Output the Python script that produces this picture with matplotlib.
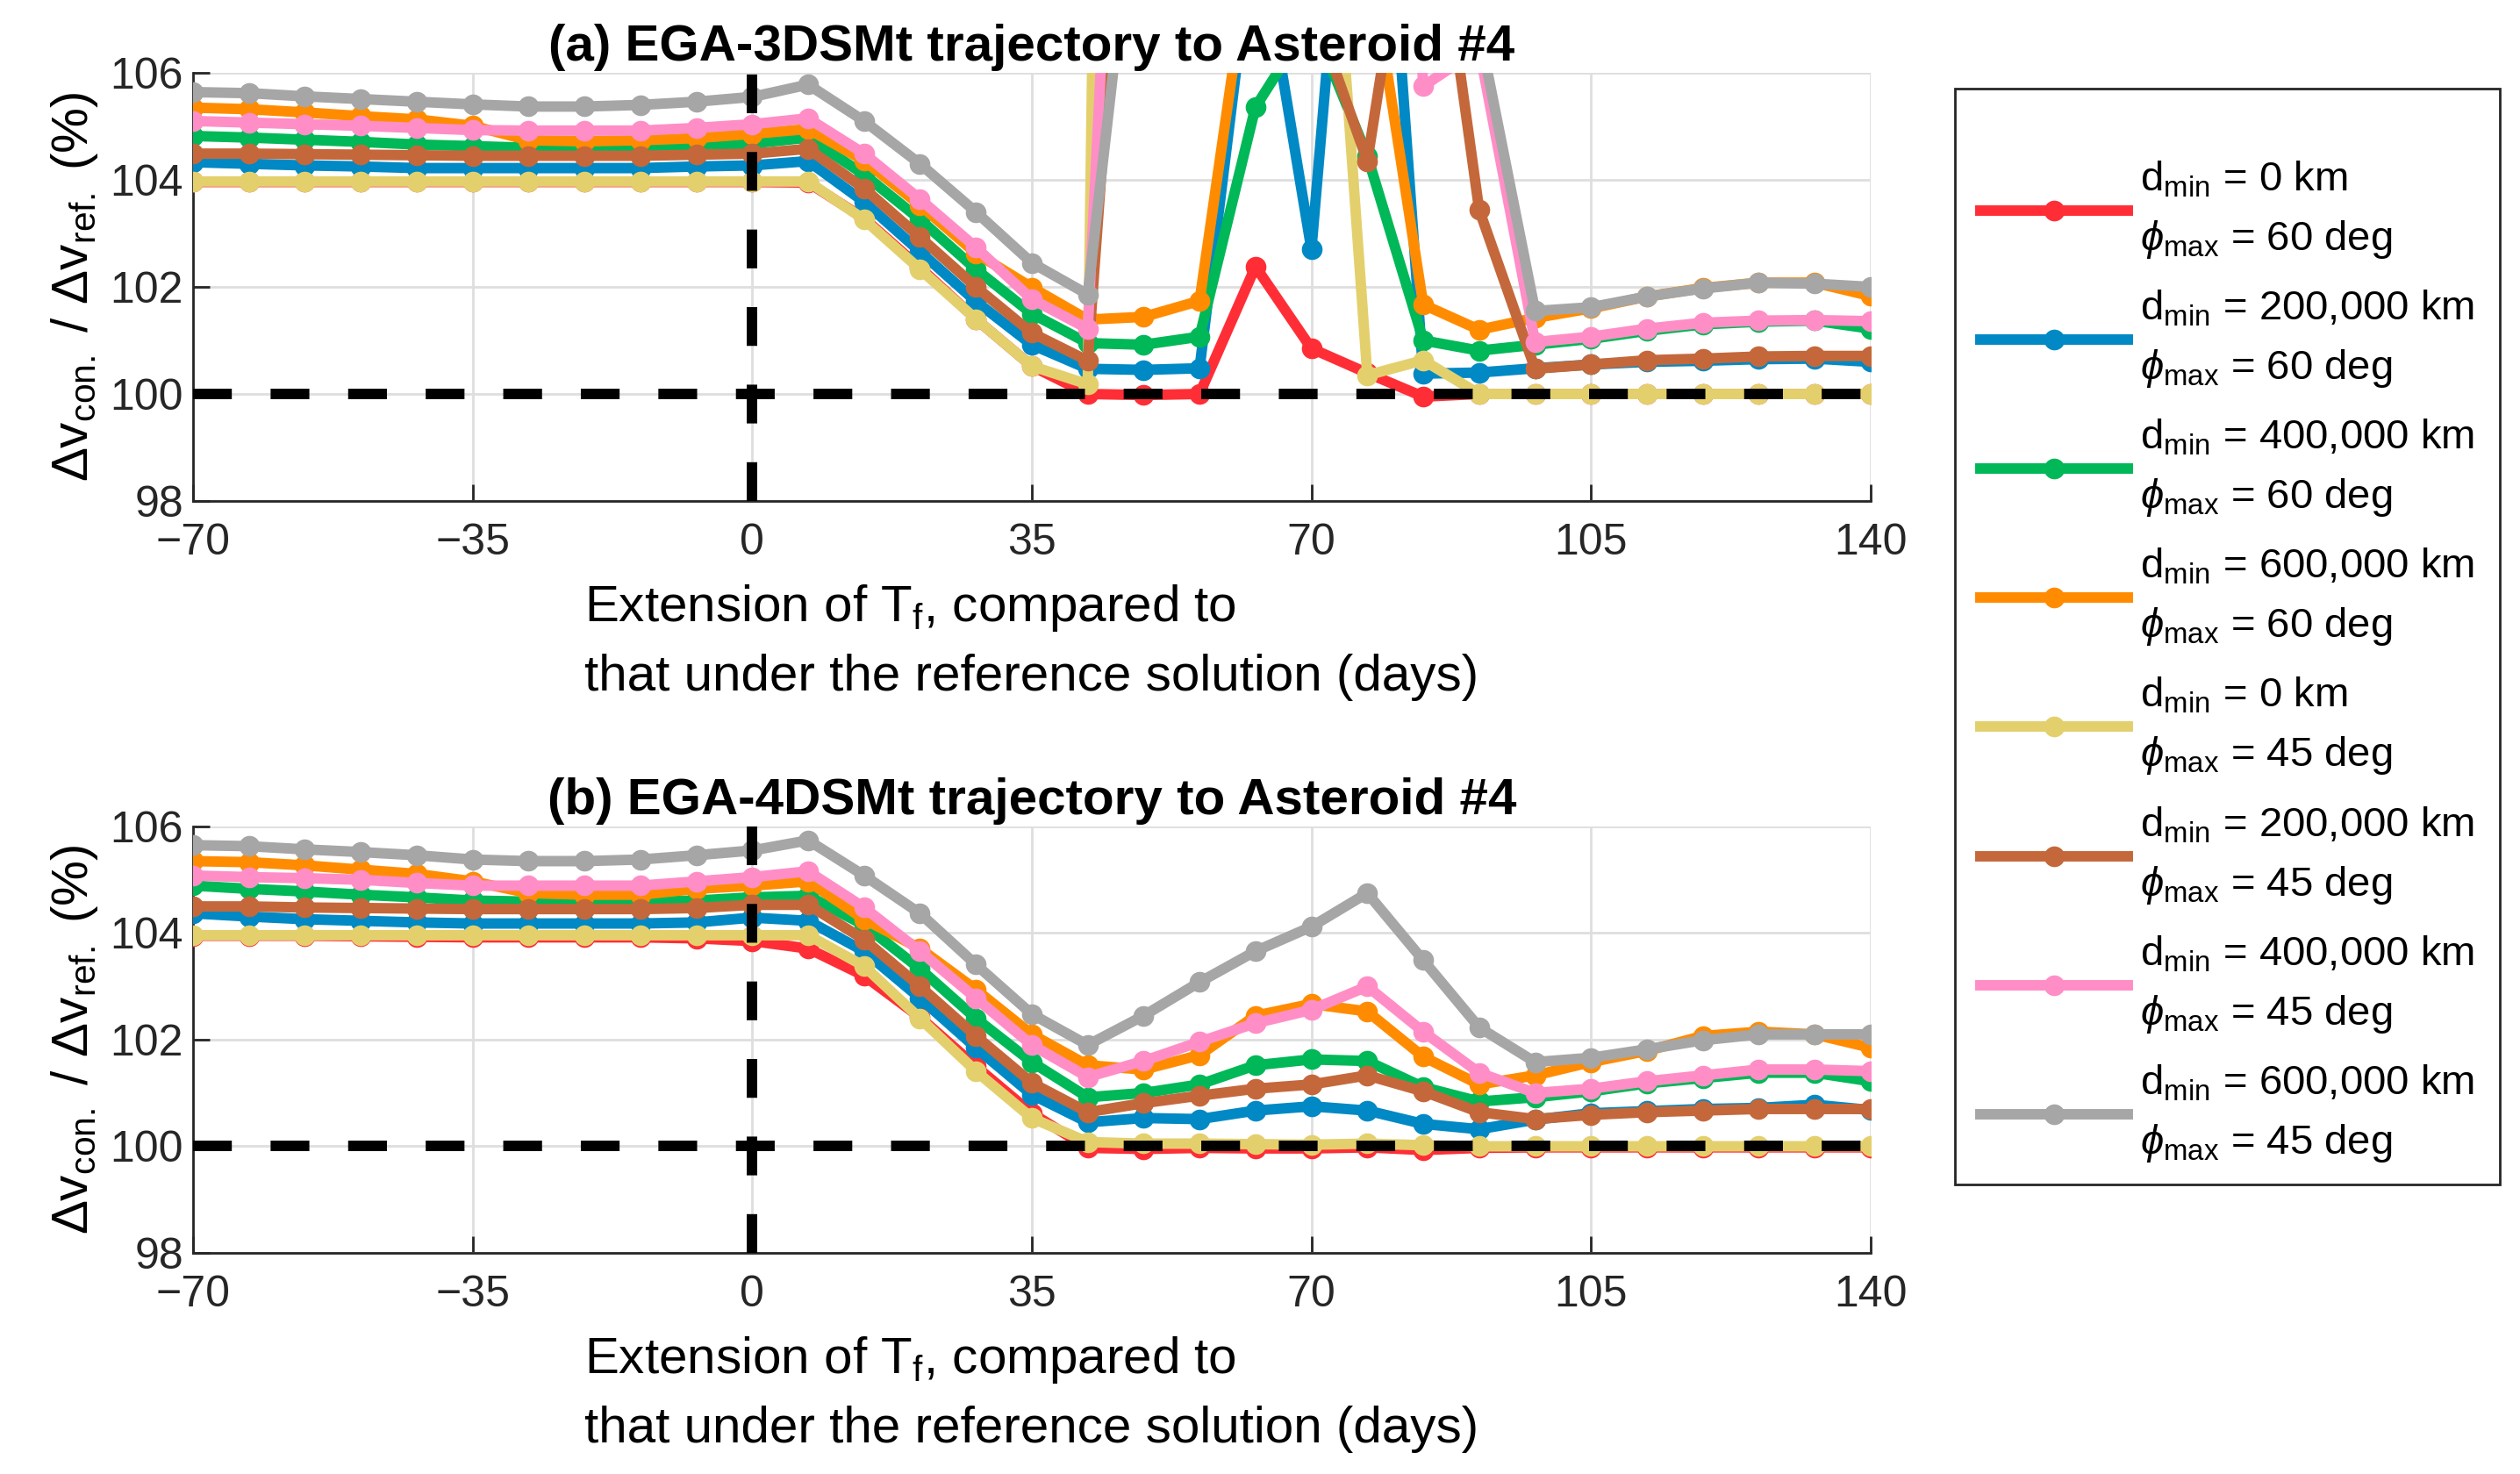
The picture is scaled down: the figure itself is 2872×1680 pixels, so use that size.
import matplotlib
matplotlib.use('Agg')
import matplotlib.pyplot as plt
from matplotlib.patches import Rectangle

plt.rcParams['font.family'] = ['Liberation Sans', 'DejaVu Sans']
plt.rcParams['mathtext.fontset'] = 'custom'
plt.rcParams['mathtext.rm'] = 'Liberation Sans'
plt.rcParams['mathtext.it'] = 'Liberation Sans:italic'
plt.rcParams['font.size'] = 18

# extension of T_f (days)
days = [-70, -63, -56, -49, -42, -35, -28, -21, -14, -7, 0, 7, 14, 21, 28, 35,
        42, 49, 56, 63, 70, 77, 84, 91, 98, 105, 112, 119, 126, 133, 140]

labels = ['d$_{\\mathrm{min}}$ = 0 km\n$\\phi_{\\mathrm{max}}$ = 60 deg',
          'd$_{\\mathrm{min}}$ = 200,000 km\n$\\phi_{\\mathrm{max}}$ = 60 deg',
          'd$_{\\mathrm{min}}$ = 400,000 km\n$\\phi_{\\mathrm{max}}$ = 60 deg',
          'd$_{\\mathrm{min}}$ = 600,000 km\n$\\phi_{\\mathrm{max}}$ = 60 deg',
          'd$_{\\mathrm{min}}$ = 0 km\n$\\phi_{\\mathrm{max}}$ = 45 deg',
          'd$_{\\mathrm{min}}$ = 200,000 km\n$\\phi_{\\mathrm{max}}$ = 45 deg',
          'd$_{\\mathrm{min}}$ = 400,000 km\n$\\phi_{\\mathrm{max}}$ = 45 deg',
          'd$_{\\mathrm{min}}$ = 600,000 km\n$\\phi_{\\mathrm{max}}$ = 45 deg']
colors = ['#FF2E36', '#0089C4', '#00B857', '#FF8C00',
          '#E3D06D', '#C4683B', '#FF8EC7', '#A6A6A6']

titles = ['(a) EGA-3DSMt trajectory to Asteroid #4',
          '(b) EGA-4DSMt trajectory to Asteroid #4']

# (a) EGA-3DSMt, values above 106 run off the plot
red_a = [103.96, 103.96, 103.96, 103.96, 103.96, 103.96, 103.96, 103.96, 103.96, 103.96, 103.96,
         103.95, 103.28, 102.36, 101.4, 100.52, 100.0, 99.98, 100.0, 102.38, 100.85, 100.39,
         99.95, 100.0, 100.0, 100.0, 100.0, 100.0, 100.0, 100.0, 100.0]
blue_a = [104.33, 104.3, 104.27, 104.25, 104.22, 104.22, 104.22, 104.22, 104.22, 104.25, 104.27,
          104.35, 103.59, 102.66, 101.73, 100.92, 100.47, 100.45, 100.48, 109.0, 102.7, 115.0,
          100.38, 100.4, 100.48, 100.55, 100.6, 100.62, 100.65, 100.66, 100.6]
green_a = [104.82, 104.79, 104.75, 104.71, 104.66, 104.63, 104.6, 104.6, 104.6, 104.63, 104.68,
           104.79, 104.1, 103.26, 102.33, 101.5, 100.95, 100.92, 101.07, 105.36, 107.0, 104.45,
           101.0, 100.81, 100.92, 101.03, 101.18, 101.3, 101.35, 101.37, 101.22]
orange_a = [105.35, 105.32, 105.26, 105.19, 105.13, 105.01, 104.74, 104.72, 104.74, 104.78, 104.86,
            104.95, 104.36, 103.53, 102.63, 101.99, 101.39, 101.44, 101.74, 109.0, 112.0, 108.4,
            101.67, 101.2, 101.42, 101.6, 101.82, 101.98, 102.08, 102.08, 101.83]
yellow_a = [103.97, 103.97, 103.97, 103.97, 103.97, 103.97, 103.97, 103.97, 103.97, 103.97, 103.97,
            103.97, 103.26, 102.33, 101.4, 100.52, 100.18, 175.0, 160.0, 140.0, 115.0, 100.35,
            100.63, 100.0, 100.0, 100.0, 100.0, 100.0, 100.0, 100.0, 100.0]
brown_a = [104.49, 104.49, 104.48, 104.47, 104.46, 104.45, 104.45, 104.45, 104.45, 104.47, 104.49,
           104.58, 103.84, 102.93, 102.0, 101.14, 100.62, 115.0, 118.0, 112.0, 107.3, 104.35,
           111.0, 103.44, 100.47, 100.55, 100.63, 100.66, 100.7, 100.71, 100.71]
pink_a = [105.1, 105.07, 105.04, 105.01, 104.97, 104.93, 104.92, 104.92, 104.92, 104.97, 105.04,
          105.15, 104.49, 103.64, 102.74, 101.77, 101.22, 122.0, 125.0, 125.0, 125.0, 125.0,
          105.75, 106.45, 100.97, 101.07, 101.22, 101.33, 101.37, 101.38, 101.36]
gray_a = [105.64, 105.62, 105.56, 105.51, 105.46, 105.41, 105.37, 105.37, 105.4, 105.46, 105.55,
          105.78, 105.1, 104.3, 103.4, 102.45, 101.86, 111.0, 114.0, 115.0, 115.0, 114.0,
          110.0, 106.8, 101.55, 101.62, 101.82, 101.97, 102.08, 102.06, 102.0]

# (b) EGA-4DSMt
red_b = [103.95, 103.95, 103.95, 103.94, 103.93, 103.92, 103.92, 103.92, 103.92, 103.9, 103.85,
         103.71, 103.2, 102.42, 101.5, 100.62, 99.97, 99.95, 99.97, 99.96, 99.96, 99.98,
         99.93, 99.97, 99.98, 99.98, 99.98, 99.98, 99.98, 99.98, 99.98]
blue_b = [104.37, 104.31, 104.26, 104.23, 104.2, 104.18, 104.18, 104.18, 104.18, 104.2, 104.29,
          104.23, 103.66, 102.78, 101.85, 100.97, 100.45, 100.53, 100.51, 100.67, 100.75, 100.67,
          100.42, 100.32, 100.5, 100.62, 100.66, 100.7, 100.72, 100.78, 100.68]
green_b = [104.89, 104.83, 104.78, 104.72, 104.67, 104.61, 104.59, 104.59, 104.59, 104.61, 104.67,
           104.7, 104.15, 103.33, 102.4, 101.58, 100.92, 101.0, 101.16, 101.52, 101.63, 101.6,
           101.11, 100.84, 100.92, 101.03, 101.18, 101.28, 101.38, 101.38, 101.22]
orange_b = [105.35, 105.33, 105.27, 105.19, 105.11, 104.97, 104.75, 104.72, 104.72, 104.83, 104.89,
            104.97, 104.26, 103.71, 102.94, 102.1, 101.52, 101.44, 101.71, 102.45, 102.67, 102.53,
            101.68, 101.16, 101.33, 101.58, 101.79, 102.07, 102.15, 102.1, 101.85]
yellow_b = [103.96, 103.96, 103.96, 103.96, 103.96, 103.96, 103.96, 103.96, 103.96, 103.96, 103.96,
            103.96, 103.38, 102.4, 101.41, 100.53, 100.08, 100.05, 100.05, 100.04, 100.03, 100.05,
            100.02, 100.0, 100.0, 100.0, 100.0, 100.0, 100.0, 100.0, 100.0]
brown_b = [104.5, 104.5, 104.48, 104.47, 104.46, 104.45, 104.45, 104.45, 104.45, 104.47, 104.53,
           104.53, 103.88, 103.0, 102.07, 101.19, 100.64, 100.81, 100.95, 101.08, 101.16, 101.33,
           101.03, 100.64, 100.51, 100.59, 100.64, 100.67, 100.7, 100.7, 100.7]
pink_b = [105.08, 105.05, 105.03, 105.0, 104.94, 104.89, 104.89, 104.89, 104.89, 104.97, 105.05,
          105.16, 104.48, 103.66, 102.78, 101.9, 101.3, 101.6, 101.96, 102.31, 102.56, 103.0,
          102.15, 101.38, 101.0, 101.08, 101.22, 101.33, 101.44, 101.44, 101.41]
gray_b = [105.65, 105.63, 105.57, 105.52, 105.46, 105.38, 105.35, 105.35, 105.38, 105.46, 105.55,
          105.74, 105.08, 104.37, 103.41, 102.48, 101.9, 102.45, 103.08, 103.66, 104.12, 104.75,
          103.49, 102.23, 101.58, 101.66, 101.82, 101.99, 102.1, 102.1, 102.1]

panel_data = [[red_a, blue_a, green_a, orange_a, yellow_a, brown_a, pink_a, gray_a],
              [red_b, blue_b, green_b, orange_b, yellow_b, brown_b, pink_b, gray_b]]

fig = plt.figure(figsize=(14.36, 8.4), dpi=200)
axes = [fig.add_axes([0.0766, 0.6601, 0.6657, 0.2905]),
        fig.add_axes([0.0766, 0.1500, 0.6657, 0.2893])]

xlab = 'Extension of T$_{\\mathrm{f}}$, compared to\nthat under the reference solution (days)'
ylab = '$\\Delta$v$_{\\mathrm{con.}}$ / $\\Delta$v$_{\\mathrm{ref.}}$ (%)'

for ax, series, title in zip(axes, panel_data, titles):
    for vals, col, lab in zip(series, colors, labels):
        ax.plot(days, vals, color=col, lw=4.3, marker='o', ms=7.5, label=lab,
                solid_joinstyle='round', zorder=3)
    ax.axhline(100, color='k', lw=4.3, dashes=(3.7, 3.7), zorder=5)
    ax.axvline(0, color='k', lw=4.3, dashes=(3.7, 3.7), zorder=5)
    ax.set_xlim(-70, 140)
    ax.set_ylim(98, 106)
    ax.set_xticks([-70, -35, 0, 35, 70, 105, 140])
    ax.set_xticklabels(['\u221270', '\u221235', '0', '35', '70', '105', '140'])
    ax.set_yticks([98, 100, 102, 104, 106])
    ax.grid(True, color='#DEDEDE', lw=1.0)
    ax.set_axisbelow(True)
    for s in ['top', 'right']:
        ax.spines[s].set_visible(False)
    for s in ['left', 'bottom']:
        ax.spines[s].set_color('#262626')
        ax.spines[s].set_linewidth(1.0)
    ax.tick_params(direction='in', length=7, width=1.0, colors='#262626', labelsize=18)
    ax.tick_params(axis='x', pad=9)
    ax.tick_params(axis='y', pad=4)
    ax.set_title(title, fontweight='bold', fontsize=21, pad=5)
    ax.set_xlabel(xlab, fontsize=21, multialignment='left', linespacing=1.55, labelpad=8)
    ax.set_ylabel(ylab, fontsize=21, labelpad=4)

# legend box drawn as a figure rectangle, entries centred inside
fig.patches.append(Rectangle((0.7758, 0.1964), 0.2162, 0.7435, transform=fig.transFigure,
                             fill=False, edgecolor='#262626', lw=1.0))
handles, labs = axes[0].get_legend_handles_labels()
leg = fig.legend(handles, labs, loc='center left', bbox_to_anchor=(0.7745, 0.551),
                 fontsize=17, handlelength=3.55, handletextpad=0.3, labelspacing=0.68,
                 borderpad=0.2, frameon=False)
for t in leg.get_texts():
    t.set_linespacing(1.6)

fig.savefig('out.png', dpi=200)
